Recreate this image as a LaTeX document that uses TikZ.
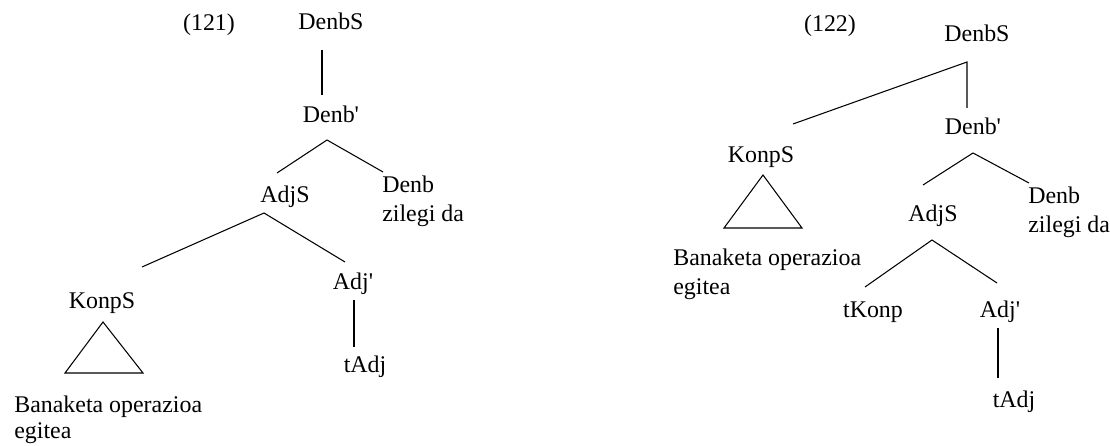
\documentclass[tikz,border=0pt]{standalone}
\usepackage{fontspec}
\setmainfont{Liberation Serif}
\usepackage{tikz}
\tikzstyle{cat}=[inner sep=0,anchor=base,font=\fontsize{13.6}{16.5}\selectfont]
\tikzstyle{words}=[inner sep=0,anchor=north west,align=left,
  font=\fontsize{13.6}{16.5}\selectfont]
\tikzstyle{branch}=[line width=0.6pt,black]

\begin{document}
\begin{tikzpicture}[x=0.02cm,y=-0.02cm]
  \useasboundingbox (0,0) rectangle (1110,446);

  % TREE (121)
  \node[cat] (ex121) at (209,31) {(121)};
  \node[cat] (DenbSa) at (331,30) {DenbS};
  \node[cat] (DenbPa) at (331,123) {Denb\textquotesingle};
  \node[cat] (AdjSa) at (285,203) {AdjS};
  \node[words] (Denba) at (382,176) {Denb\\zilegi da};
  \node[cat] (KonpSa) at (102,308) {KonpS};
  \node[cat] (AdjPa) at (353,290) {Adj\textquotesingle};
  \node[cat] (tAdja) at (365,372) {tAdj};
  \node[words,font=\fontsize{13.6}{14.8}\selectfont] (Banaketaa) at (14,396)
    {Banaketa operazioa\\egitea};

  \draw[branch] ([shift={(-9,20)}]DenbSa.base) -- ([shift={(-9,-28)}]DenbPa.base);
  \draw[branch] ([shift={(-8,-30)}]AdjSa.base) -- ([shift={(-4,17)}]DenbPa.base)
    -- ([shift={(1,-4)}]Denba.north west);
  \draw[branch] ([shift={(40,-41)}]KonpSa.base) -- ([shift={(-21,10)}]AdjSa.base)
    -- ([shift={(-8,-28)}]AdjPa.base);
  \draw[branch] ([shift={(1,10)}]AdjPa.base) -- ([shift={(-11,-25)}]tAdja.base);
  % triangle
  \draw[branch] ([shift={(1,14)}]KonpSa.base) -- ++(-38,51) -- ++(78,0) -- cycle;

  % TREE (122)
  \node[cat] (ex122) at (830,32) {(122)};
  \node[cat] (DenbSb) at (977,42) {DenbS};
  \node[cat] (KonpSb) at (761,163) {KonpS};
  \node[cat] (DenbPb) at (973,135) {Denb\textquotesingle};
  \node[words] (Banaketab) at (673,249) {Banaketa operazioa\\egitea};
  \node[cat] (AdjSb) at (933,222) {AdjS};
  \node[words] (Denbb) at (1028,187) {Denb\\zilegi da};
  \node[cat] (tKonpb) at (873,317) {tKonp};
  \node[cat] (AdjPb) at (1000,317) {Adj\textquotesingle};
  \node[cat] (tAdjb) at (1014,407) {tAdj};

  \draw[branch] ([shift={(32,-39)}]KonpSb.base) -- ([shift={(-10,20)}]DenbSb.base)
    -- ([shift={(-6,-27)}]DenbPb.base);
  \draw[branch] ([shift={(-10,-37)}]AdjSb.base) -- ([shift={(0,18)}]DenbPb.base)
    -- ([shift={(1,-4)}]Denbb.north west);
  \draw[branch] ([shift={(-8,-30)}]tKonpb.base) -- ([shift={(-1,18)}]AdjSb.base)
    -- ([shift={(-3,-34)}]AdjPb.base);
  \draw[branch] ([shift={(-2,11)}]AdjPb.base) -- ([shift={(-16,-29)}]tAdjb.base);
  % triangle
  \draw[branch] ([shift={(2,12)}]KonpSb.base) -- ++(-39,53) -- ++(78,0) -- cycle;
\end{tikzpicture}
\end{document}
